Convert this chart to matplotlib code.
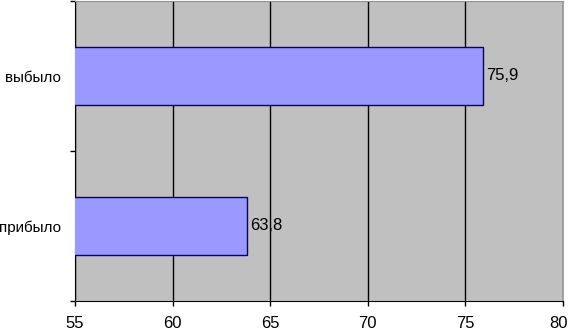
import matplotlib.pyplot as plt
import numpy as np

# Données
categories = ["прибыло", "выбыло"]
values = [63.8, 75.9]
value_labels = ["63,8", "75,9"]
x_ticks = [55, 60, 65, 70, 75, 80]

plt.rcParams['font.family'] = ['Liberation Sans', 'DejaVu Sans']

fig = plt.figure(figsize=(5.7, 3.31), dpi=100)
ax = fig.add_axes([75 / 570, 30 / 331, 488 / 570, 300 / 331])
ax.set_facecolor("#C0C0C0")

y = np.arange(len(categories))
ax.barh(y, values, left=0, height=0.39, color="#9999FF",
        edgecolor="#000080", linewidth=1, zorder=3)

for yi, v, lab in zip(y, values, value_labels):
    ax.text(v + 0.15, yi, lab, ha='left', va='center', fontsize=12, zorder=4)

ax.set_xlim(55, 80)
ax.set_ylim(-0.5, 1.5)
ax.set_xticks(x_ticks)
# Le dernier libellé est posé à part, décalé pour rester dans l'image
ax.set_xticklabels([str(t) for t in x_ticks[:-1]] + [""], fontsize=12)
ax.annotate(str(x_ticks[-1]), xy=(x_ticks[-1], 0),
            xycoords=('data', 'axes fraction'),
            xytext=(-3, -10.6), textcoords='offset points',
            ha='center', va='top', fontsize=12)
ax.xaxis.grid(True, color="black", linewidth=1, zorder=1)
ax.set_axisbelow(True)

# Graduations des catégories
ax.set_yticks([-0.5, 0.5, 1.5])
ax.set_yticklabels([])
ax.set_yticks(y, minor=True)
ax.set_yticklabels(categories, minor=True, fontsize=11)
ax.tick_params(axis='y', which='minor', length=0, pad=10)
ax.tick_params(axis='y', which='major', length=3.6, width=1)
ax.tick_params(axis='x', length=3.6, width=1, pad=7)

ax.spines['left'].set_color("black")
ax.spines['bottom'].set_color("black")
ax.spines['top'].set_color("#909090")
ax.spines['right'].set_color("#A8A8A8")

plt.savefig("out.png", dpi=100)
plt.close()
